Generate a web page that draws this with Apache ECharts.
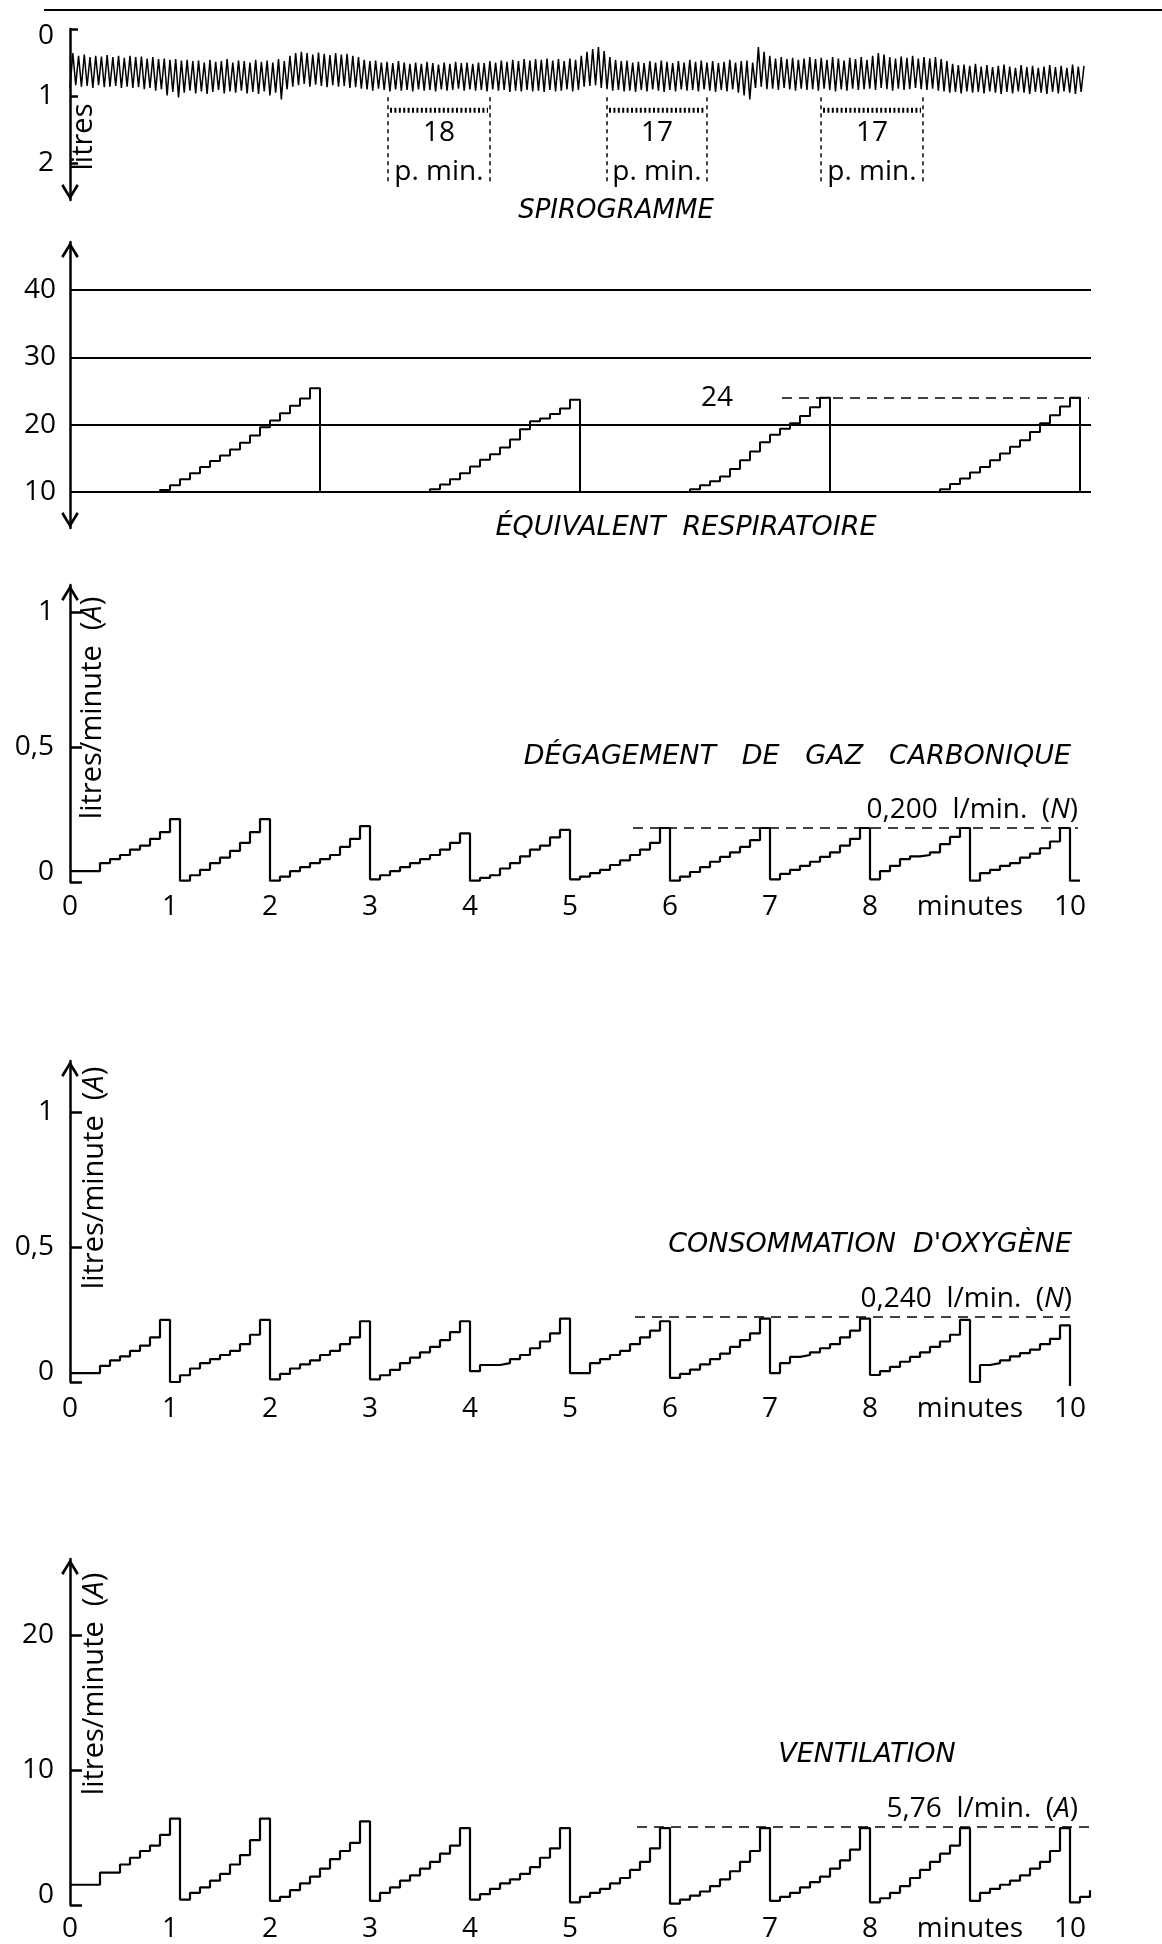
<!DOCTYPE html>
<html>
<head>
<meta charset="utf-8">
<script src="https://cdn.jsdelivr.net/npm/echarts@6/dist/echarts.min.js"></script>
<style>
  html, body { margin: 0; padding: 0; background: #fff; }
  #chart { width: 1162px; height: 1944px; }
</style>
</head>
<body>
<div id="chart"></div>
<script>
// Ten-minute respiratory record: spirogram, respiratory equivalent,
// CO2 output, O2 uptake and ventilation (cumulative, reset each minute).

const SAMPLE_MIN = 0.1; // minutes between samples of the stepped traces

// Spirogram, one value per breath (litres on a downward axis)
const spiroUpper = [
  0.36,0.40,0.38,0.42,0.40,0.41,0.39,0.42,0.40,0.43,
  0.40,0.42,0.41,0.44,0.42,0.45,0.44,0.46,0.45,0.47,
  0.46,0.48,0.47,0.50,0.46,0.49,0.48,0.45,0.50,0.47,
  0.48,0.50,0.46,0.49,0.47,0.50,0.45,0.48,0.40,0.36,
  0.34,0.36,0.38,0.35,0.37,0.39,0.36,0.38,0.37,0.40,
  0.42,0.46,0.48,0.47,0.50,0.49,0.51,0.48,0.50,0.52,
  0.50,0.52,0.49,0.51,0.53,0.50,0.52,0.49,0.51,0.50,
  0.52,0.50,0.51,0.48,0.50,0.47,0.49,0.46,0.48,0.45,
  0.47,0.45,0.46,0.44,0.47,0.45,0.48,0.44,0.46,0.40,
  0.34,0.30,0.27,0.33,0.42,0.46,0.48,0.47,0.50,0.49,
  0.51,0.48,0.50,0.47,0.49,0.51,0.48,0.50,0.46,0.49,
  0.47,0.50,0.48,0.51,0.49,0.46,0.50,0.48,0.47,0.50,
  0.27,0.34,0.40,0.44,0.42,0.45,0.43,0.46,0.44,0.42,
  0.45,0.43,0.46,0.42,0.44,0.47,0.43,0.45,0.42,0.46,
  0.40,0.36,0.38,0.42,0.44,0.41,0.43,0.40,0.44,0.42,
  0.44,0.42,0.45,0.48,0.52,0.54,0.53,0.55,0.52,0.56,
  0.54,0.57,0.55,0.53,0.56,0.58,0.54,0.57,0.55,0.58,
  0.56,0.54,0.57,0.55,0.58,0.53,0.56,0.55
];
const spiroLower = [
  0.88,0.84,0.86,0.85,0.88,0.84,0.87,0.86,0.85,0.88,
  0.86,0.88,0.87,0.90,0.88,0.92,0.90,0.99,0.94,1.02,
  0.95,0.92,0.96,0.93,0.97,0.94,0.91,0.96,0.93,0.95,
  0.92,0.96,0.94,0.97,0.93,0.99,0.95,1.05,0.90,0.86,
  0.84,0.82,0.86,0.83,0.85,0.87,0.84,0.86,0.85,0.88,
  0.87,0.89,0.90,0.92,0.89,0.91,0.93,0.90,0.92,0.91,
  0.93,0.90,0.92,0.91,0.93,0.90,0.92,0.91,0.89,0.92,
  0.90,0.92,0.91,0.93,0.90,0.92,0.91,0.94,0.92,0.93,
  0.91,0.93,0.92,0.94,0.91,0.93,0.92,0.90,0.93,0.91,
  0.86,0.85,0.84,0.88,0.90,0.92,0.91,0.93,0.92,0.94,
  0.91,0.93,0.90,0.92,0.94,0.91,0.93,0.90,0.92,0.91,
  0.93,0.90,0.92,0.94,0.91,0.93,0.90,0.95,0.99,1.05,
  0.88,0.86,0.90,0.89,0.91,0.88,0.90,0.92,0.89,0.91,
  0.90,0.92,0.89,0.91,0.93,0.90,0.92,0.89,0.91,0.90,
  0.89,0.91,0.88,0.90,0.92,0.89,0.91,0.90,0.88,0.90,
  0.91,0.89,0.92,0.93,0.95,0.94,0.96,0.93,0.95,0.94,
  0.96,0.93,0.95,0.97,0.94,0.96,0.93,0.95,0.97,0.94,
  0.95,0.97,0.94,0.96,0.93,0.95,0.97,0.94
];
// Breath counts over one-minute windows (start, end in minutes)
const countWindows = [[3.18, 4.20], [5.37, 6.37], [7.51, 8.53]];
const breathCounts = [18, 17, 17];

// Respiratory equivalent, one sample every 0.1 min
const equivalent = [
  10,10,10,10,10,10,10,10,10,
  10.3,11.0,11.9,12.8,13.7,14.6,15.4,16.3,17.3,18.4,19.6,20.6,21.7,22.8,23.9,25.4,
  10,10,10,10,10,10,10,10,10,10,10,
  10.4,11.1,11.9,12.8,13.8,14.8,15.6,16.6,17.8,19.3,20.5,20.9,21.6,22.4,23.7,
  10,10,10,10,10,10,10,10,10,10,10,
  10.4,11.0,11.6,12.3,13.4,14.7,16.0,17.4,18.5,19.4,20.2,21.3,22.6,24.0,
  10,10,10,10,10,10,10,10,10,10,10,
  10.4,11.2,12.0,12.9,13.7,14.7,15.7,16.7,17.7,18.9,20.2,21.4,22.7,24.0,
  10,10
];
const equivalentTicks = [10, 20, 30, 40];
const equivalentRef = 24;

// CO2 output, l/min, one sample every 0.1 min
const co2 = [
  0.04,0.04,0.04,0.07,0.085,0.10,0.12,0.135,0.16,0.185,0.233,
  0.005,0.025,0.045,0.07,0.09,0.115,0.145,0.185,0.233,
  0.005,0.02,0.04,0.055,0.07,0.085,0.10,0.13,0.16,0.207,
  0.01,0.025,0.04,0.055,0.07,0.085,0.10,0.12,0.145,0.18,
  0.005,0.015,0.025,0.05,0.07,0.095,0.12,0.135,0.165,0.193,
  0.01,0.02,0.033,0.045,0.063,0.08,0.10,0.12,0.145,0.20,
  0.005,0.02,0.037,0.055,0.075,0.093,0.11,0.13,0.155,0.20,
  0.01,0.03,0.045,0.06,0.075,0.093,0.11,0.135,0.16,0.20,
  0.01,0.04,0.06,0.085,0.095,0.10,0.11,0.14,0.167,0.20,
  0.005,0.033,0.045,0.06,0.07,0.09,0.105,0.125,0.15,0.20,
  0.005,0.005
];
const co2Ref = 0.200;

// O2 uptake, l/min
const o2 = [
  0.033,0.033,0.033,0.06,0.08,0.095,0.115,0.135,0.165,0.23,
  0.0,0.025,0.05,0.07,0.085,0.10,0.115,0.14,0.175,0.23,
  0.01,0.03,0.05,0.065,0.08,0.10,0.115,0.14,0.165,0.225,
  0.01,0.025,0.045,0.07,0.09,0.11,0.13,0.155,0.185,0.225,
  0.04,0.063,0.063,0.07,0.085,0.10,0.125,0.15,0.18,0.235,
  0.033,0.033,0.07,0.085,0.10,0.115,0.14,0.165,0.19,0.225,
  0.015,0.03,0.046,0.065,0.085,0.105,0.13,0.155,0.18,0.235,
  0.033,0.07,0.093,0.10,0.11,0.125,0.14,0.165,0.19,0.235,
  0.026,0.04,0.056,0.075,0.093,0.11,0.13,0.15,0.175,0.23,
  0.0,0.063,0.07,0.08,0.095,0.107,0.12,0.14,0.16,0.21,
  -0.015
];
const o2Ref = 0.240;

// Ventilation, l/min
const ventilation = [
  1.5,1.5,1.5,2.4,2.4,3.0,3.5,4.0,4.4,5.2,6.4,
  0.4,0.9,1.3,1.8,2.3,3.0,3.7,4.8,6.4,
  0.3,0.6,1.1,1.6,2.1,2.7,3.4,4.0,4.6,6.2,
  0.3,0.9,1.3,1.8,2.2,2.7,3.2,3.8,4.4,5.7,
  0.4,0.8,1.2,1.6,1.9,2.3,2.8,3.5,4.2,5.7,
  0.2,0.6,0.9,1.2,1.6,2.0,2.6,3.2,4.2,5.7,
  0.1,0.4,0.7,1.0,1.4,1.9,2.5,3.2,4.0,5.7,
  0.3,0.6,0.9,1.3,1.7,2.1,2.7,3.3,4.1,5.7,
  0.2,0.5,0.9,1.4,2.0,2.6,3.2,3.8,4.4,5.7,
  0.3,0.9,1.2,1.5,1.8,2.2,2.7,3.2,4.0,5.7,
  0.2,0.6,1.1
];
const ventilationRef = 5.76;

const minuteTicks = [0,1,2,3,4,5,6,7,8,9,10];

// ---------------------------------------------------------------
const FONT = '"Open Sans", "DejaVu Sans", sans-serif';
const TITLE_FONT = '"DejaVu Sans", "Open Sans", sans-serif';
const FS = 28;
const INK = '#000';
const ARROW = 'path://M0,13 L8,0 L16,13 L14,14.5 L8,4.5 L2,14.5 Z';
const ARROW_SIZE = [20, 16];
const AH = ARROW_SIZE[1] / 2;

const comma = v => String(v).replace('.', ',');
const timed = arr => arr.map((v, i) => [+(i * SAMPLE_MIN).toFixed(2), v]);

const spiroPoints = [];
spiroUpper.forEach((u, i) => { spiroPoints.push(spiroLower[i]); spiroPoints.push(u); });

const grids = [
  { left: 70, top: 29,   width: 1014, height: 171 },
  { left: 70, top: 242,  width: 1021, height: 286 },
  { left: 70, top: 585,  width: 1030, height: 297 },
  { left: 70, top: 1061, width: 1030, height: 321 },
  { left: 70, top: 1559, width: 1030, height: 346 }
];

const hiddenX = (grid, extra) => Object.assign({
  gridIndex: grid, show: false, splitLine: { show: false }
}, extra);

const minuteAxis = (grid, margin) => ({
  gridIndex: grid, type: 'value', min: 0, max: 10.3,
  axisLine: { show: false }, axisTick: { show: false }, splitLine: { show: false },
  axisLabel: {
    customValues: minuteTicks, margin: margin, color: INK,
    fontFamily: FONT, fontSize: FS,
    formatter: v => (v === 9 ? 'minutes' : String(v))
  }
});

const yAxisBase = (grid, min, max, ticks, symbol, offset, extraLabel) => ({
  gridIndex: grid, type: 'value', min: min, max: max,
  splitLine: { show: false },
  axisLine: {
    show: true, onZero: false,
    lineStyle: { color: INK, width: 2.5 },
    symbol: symbol, symbolSize: ARROW_SIZE, symbolOffset: offset
  },
  axisTick: ticks ? { show: true, inside: true, length: 12, customValues: ticks,
    lineStyle: { color: INK, width: 2.5 } } : { show: false },
  axisLabel: Object.assign({
    customValues: ticks, margin: 16, color: INK, fontFamily: FONT, fontSize: FS,
    formatter: v => (v === 0 ? '{lift|0}' : comma(v)),
    rich: { lift: { fontFamily: FONT, fontSize: FS, color: INK, padding: [0, 0, 20, 0] } }
  }, extraLabel || {})
});

const refLine = (t0, t1, value, text, labelExtra) => [
  {
    coord: [t0, value],
    lineStyle: { type: [10, 7], width: 1.6, color: INK },
    label: Object.assign({
      show: true, position: 'insideEndTop', distance: [0, 4],
      formatter: text, color: INK, fontFamily: FONT, fontSize: FS,
      rich: { it: { fontStyle: 'italic', fontFamily: FONT, fontSize: FS, color: INK } }
    }, labelExtra || {})
  },
  { coord: [t1, value] }
];

const stepSeries = (xAxis, yAxis, data, markData) => ({
  type: 'line', xAxisIndex: xAxis, yAxisIndex: yAxis,
  step: 'end', symbol: 'none', clip: false, silent: true,
  lineStyle: { color: INK, width: 2.2 },
  data: timed(data),
  markLine: { symbol: 'none', silent: true, animation: false, data: markData }
});

const option = {
  animation: false,
  backgroundColor: '#fff',
  grid: grids,
  xAxis: [
    hiddenX(0, { type: 'category', boundaryGap: false, data: spiroPoints.map((_, i) => i) }),
    hiddenX(0, { type: 'value', min: 0, max: 10.14 }),
    hiddenX(1, { type: 'value', min: 0, max: 10.21 }),
    minuteAxis(2, 11),
    minuteAxis(3, 13),
    minuteAxis(4, 10)
  ],
  yAxis: [
    Object.assign(yAxisBase(0, 0, 2.552, [0, 1, 2], [ARROW, 'none'], [AH, 0],
      { formatter: v => (v === 0 ? '{drop|0}' : String(v)),
        rich: { drop: { fontFamily: FONT, fontSize: FS, color: INK, padding: [14, 0, 0, 0] } } }),
      { inverse: true,
        axisTick: { show: true, inside: true, length: 8, customValues: [0, 1, 2],
          lineStyle: { color: INK, width: 2.5 } } }),
    Object.assign(yAxisBase(1, 4.65, 47.13, equivalentTicks, [ARROW, ARROW], [AH, -AH],
      { formatter: v => String(v), margin: 14 }), { axisTick: { show: false } }),
    yAxisBase(2, 0, 297 / 270, [0, 0.5, 1], ['none', ARROW], [0, -AH]),
    yAxisBase(3, 0, 321 / 270, [0, 0.5, 1], ['none', ARROW], [0, -AH]),
    yAxisBase(4, 0, 346 / 13.5, [0, 10, 20], ['none', ARROW], [0, -AH])
  ],
  series: [
    {
      type: 'line', xAxisIndex: 0, yAxisIndex: 0, symbol: 'none', silent: true,
      lineStyle: { color: INK, width: 1.5 }, data: spiroPoints
    },
    {
      type: 'custom', xAxisIndex: 1, yAxisIndex: 0, silent: true, clip: false,
      data: countWindows.map((w, i) => [w[0], w[1], breathCounts[i]]),
      renderItem: (params, api) => {
        const a = api.coord([api.value(0), 1.02]);
        const b = api.coord([api.value(1), 2.28]);
        const x0 = a[0], x1 = b[0], y0 = a[1], y1 = b[1];
        const dash = { stroke: INK, lineWidth: 1.5, lineDash: [4, 4], fill: null };
        const txt = (s, y) => ({ type: 'text', style: {
          text: s, x: (x0 + x1) / 2, y: y, textAlign: 'center', textVerticalAlign: 'middle',
          align: 'center', verticalAlign: 'middle', font: FS + 'px ' + FONT, fill: INK } });
        return { type: 'group', children: [
          { type: 'line', shape: { x1: x0, y1: y0, x2: x0, y2: y1 }, style: dash },
          { type: 'line', shape: { x1: x1, y1: y0, x2: x1, y2: y1 }, style: dash },
          { type: 'line', shape: { x1: x0 + 2, y1: y0 + 13, x2: x1 - 2, y2: y0 + 13 },
            style: { stroke: INK, lineWidth: 5, lineDash: [2, 2.4], fill: null } },
          txt(String(api.value(2)), y0 + 36),
          txt('p. min.', y0 + 75)
        ] };
      }
    },
    {
      type: 'line', xAxisIndex: 2, yAxisIndex: 1, step: 'end', symbol: 'none', clip: false,
      silent: true, lineStyle: { color: INK, width: 2 }, data: timed(equivalent),
      markLine: { symbol: 'none', silent: true, animation: false, data: [
        ...equivalentTicks.map(v => ({ yAxis: v, lineStyle: { type: 'solid', width: 2, color: INK },
          label: { show: false } })),
        refLine(7.12, 10.19, equivalentRef, String(equivalentRef),
          { position: 'start', distance: 49 })
      ] }
    },
    stepSeries(3, 2, co2, [refLine(5.63, 10.08, co2Ref,
      comma(co2Ref.toFixed(3)) + '  l/min.  ({it|N})')]),
    stepSeries(4, 3, o2, [refLine(5.65, 10.02, o2Ref,
      comma(o2Ref.toFixed(3)) + '  l/min.  ({it|N})')]),
    stepSeries(5, 4, ventilation, [refLine(5.67, 10.22, ventilationRef,
      comma(ventilationRef.toFixed(2)) + '  l/min.  ({it|A})', { distance: [14, 4] })])
  ],
  graphic: [
    { type: 'line', shape: { x1: 44, y1: 10, x2: 1162, y2: 10 }, style: { stroke: INK, lineWidth: 2 } },
    ...[
      ['SPIROGRAMME', 616, 211, 'center', 26],
      ['ÉQUIVALENT  RESPIRATOIRE', 686, 528, 'center', 27],
      ['DÉGAGEMENT   DE   GAZ   CARBONIQUE', 1071, 757, 'right', 27],
      ['CONSOMMATION  D\'OXYGÈNE', 1072, 1245, 'right', 27],
      ['VENTILATION', 867, 1755, 'center', 27]
    ].map(([t, x, y, al, fs]) => ({
      type: 'text', x: x, y: y, silent: true,
      style: { text: t, font: 'italic ' + fs + 'px ' + TITLE_FONT, fill: INK,
        textAlign: al, textVerticalAlign: 'middle' }
    })),
    ...[
      ['litres', 84, 137],
      ['litres/minute  ({it|A})', 93, 708],
      ['litres/minute  ({it|A})', 95, 1178],
      ['litres/minute  ({it|A})', 95, 1684]
    ].map(([t, x, y]) => ({
      type: 'text', x: x, y: y, rotation: Math.PI / 2, silent: true,
      style: { text: t, font: '29px ' + FONT, fill: INK,
        textAlign: 'center', textVerticalAlign: 'middle',
        rich: { it: { fontStyle: 'italic', fontFamily: FONT, fontSize: 29, fill: INK } } }
    }))
  ]
};

const chart = echarts.init(document.getElementById('chart'), null, { renderer: 'canvas' });
chart.setOption(option);
</script>
</body>
</html>
